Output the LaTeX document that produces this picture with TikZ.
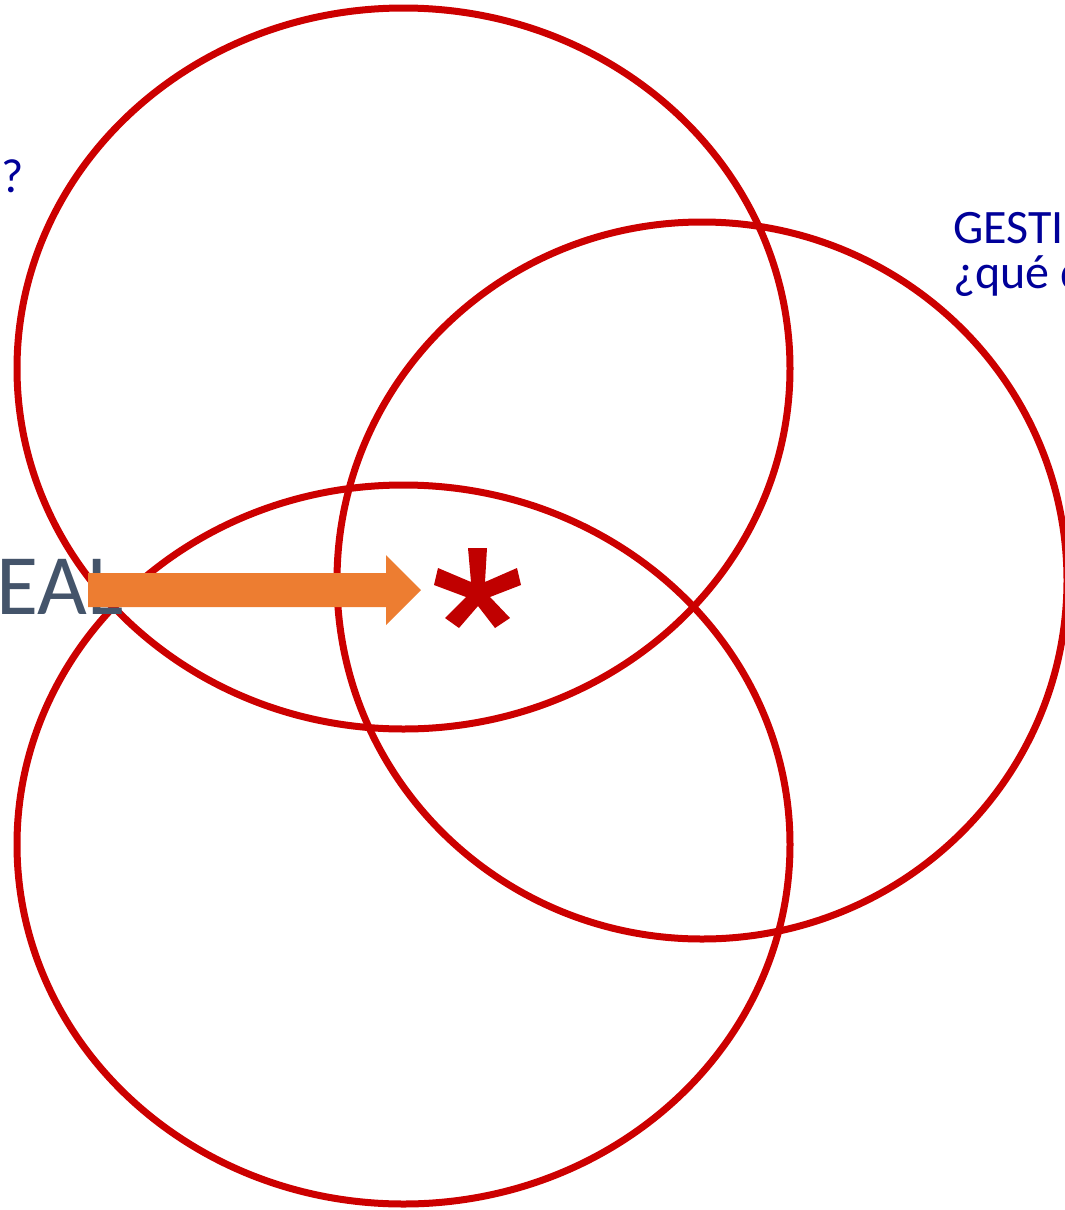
\documentclass[tikz,border=0pt]{standalone}
\usepackage{fontspec}
\setmainfont{Carlito}
\definecolor{ringred}{RGB}{204,0,0}
\definecolor{txtblue}{RGB}{0,0,153}
\definecolor{txtgray}{RGB}{68,84,106}
\definecolor{arrorange}{RGB}{237,125,49}
\definecolor{astred}{RGB}{192,0,0}
\begin{document}
\begin{tikzpicture}[x=1pt,y=-1pt,
  ring/.style={draw=ringred, line width=7pt},
  bluetxt/.style={text=txtblue, font=\fontsize{48}{50}\selectfont, inner sep=0pt, anchor=base west},
  graytxt/.style={text=txtgray, font=\fontsize{86}{88}\selectfont, inner sep=0pt, anchor=base west}]
\useasboundingbox (0,0) rectangle (1065,1210);
\clip (0,0) rectangle (1065,1210);
% rings
\draw[ring] (403.5,368.5) ellipse [x radius=386.5, y radius=360.5];
\draw[ring] (403.5,844.5) ellipse [x radius=386.5, y radius=359.5];
\draw[ring] (702,580.5) ellipse [x radius=365, y radius=358.5];
% texts
\node[bluetxt] (q) at (1,192) {?};
\node[bluetxt] (g1) at (953,243) {GESTI};
\node[bluetxt] (g2) at (953,288) {¿qué d};
\node[graytxt] (eal) at (-4,614) {EAL};
% arrow
\fill[arrorange] (88,573) -- (386,573) -- (386,555) -- (421,590) -- (386,625) -- (386,607) -- (88,607) -- cycle;
% asterisk
\fill[astred] (468,548) -- (487,548) -- (485,582) -- (517,568) -- (521,585) -- (490,597)
  -- (510,618) -- (495,628) -- (478,606) -- (459,628) -- (445,618) -- (466,597)
  -- (434,585) -- (438,568) -- (471,582) -- cycle;
\end{tikzpicture}
\end{document}
